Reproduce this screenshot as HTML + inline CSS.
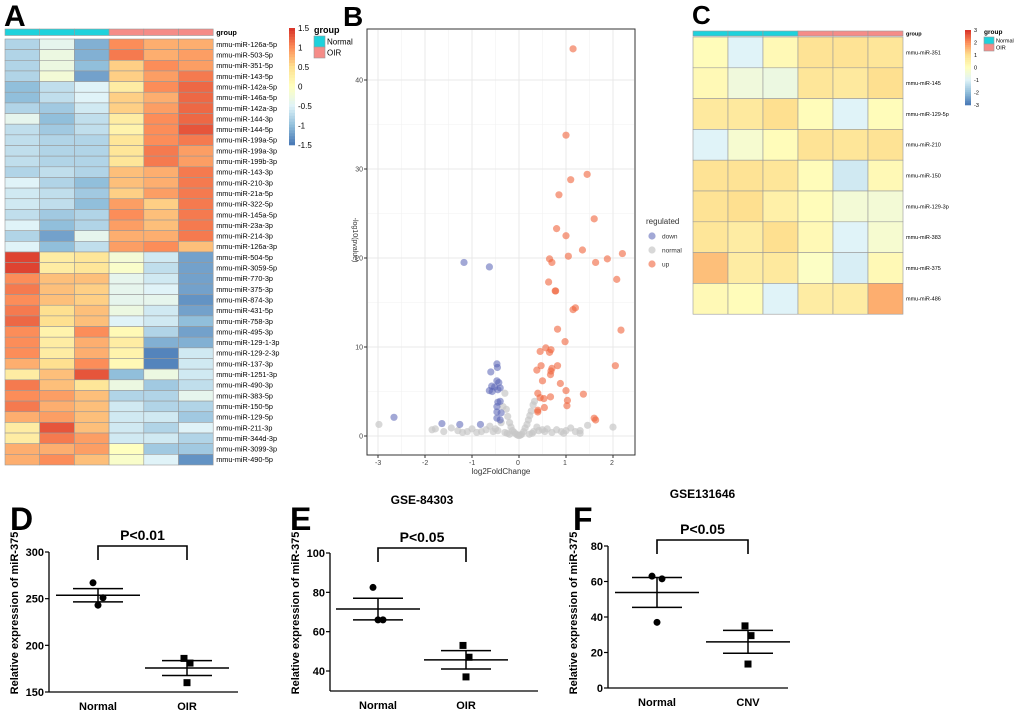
<!DOCTYPE html>
<html><head><meta charset="utf-8"><style>
body{margin:0;background:#fff;}
svg{display:block;font-family:"Liberation Sans",Arial,sans-serif;}
</style></head><body>
<svg id="fig" width="1020" height="711" viewBox="0 0 1020 711"></svg>
<script>
// ---------- Panel A data ----------
const aRows=["mmu-miR-126a-5p","mmu-miR-503-5p","mmu-miR-351-5p","mmu-miR-143-5p","mmu-miR-142a-5p","mmu-miR-146a-5p","mmu-miR-142a-3p","mmu-miR-144-3p","mmu-miR-144-5p","mmu-miR-199a-5p","mmu-miR-199a-3p","mmu-miR-199b-3p","mmu-miR-143-3p","mmu-miR-210-3p","mmu-miR-21a-5p","mmu-miR-322-5p","mmu-miR-145a-5p","mmu-miR-23a-3p","mmu-miR-214-3p","mmu-miR-126a-3p","mmu-miR-504-5p","mmu-miR-3059-5p","mmu-miR-770-3p","mmu-miR-375-3p","mmu-miR-874-3p","mmu-miR-431-5p","mmu-miR-758-3p","mmu-miR-495-3p","mmu-miR-129-1-3p","mmu-miR-129-2-3p","mmu-miR-137-3p","mmu-miR-1251-3p","mmu-miR-490-3p","mmu-miR-383-5p","mmu-miR-150-5p","mmu-miR-129-5p","mmu-miR-211-3p","mmu-miR-344d-3p","mmu-miR-3099-3p","mmu-miR-490-5p"];
const aGroups=["Normal","Normal","Normal","OIR","OIR","OIR"];
const aValues=[
[-0.8,-0.4,-1.1,1.0,0.8,0.8],[-0.8,-0.3,-1.1,1.1,0.8,0.9],[-0.8,-0.3,-1.0,0.6,1.0,0.9],[-0.8,-0.2,-1.2,0.6,0.9,1.1],
[-1.0,-0.7,-0.5,0.3,1.0,1.2],[-1.0,-0.7,-0.5,0.6,0.8,1.2],[-0.8,-0.9,-0.6,0.6,0.9,1.2],[-0.4,-1.0,-0.7,0.3,1.0,1.2],
[-0.7,-0.9,-0.7,0.2,1.0,1.3],[-0.7,-0.8,-0.8,0.4,1.0,1.1],[-0.7,-0.8,-0.8,0.4,1.1,0.9],[-0.7,-0.8,-0.8,0.4,1.1,0.9],
[-0.8,-0.7,-0.8,0.7,0.8,1.1],[-0.5,-0.8,-1.0,0.7,0.8,1.1],[-0.6,-0.7,-0.9,0.6,0.9,1.1],[-0.6,-0.7,-1.0,0.9,0.6,1.1],
[-0.7,-0.9,-0.8,1.0,0.7,1.1],[-0.5,-1.0,-0.8,0.9,0.7,1.1],[-0.8,-1.2,-0.4,0.8,0.8,1.1],[-0.5,-1.0,-0.7,0.9,1.0,0.7],
[1.4,0.3,0.4,-0.2,-0.6,-1.2],[1.4,0.3,0.4,-0.1,-0.7,-1.2],[1.0,0.7,0.7,-0.4,-0.6,-1.2],[1.1,0.7,0.6,-0.4,-0.5,-1.2],
[1.0,0.7,0.6,-0.4,-0.4,-1.3],[1.1,0.5,0.7,-0.3,-0.6,-1.2],[1.2,0.5,0.7,-0.5,-0.6,-1.0],[1.0,0.2,1.0,0.1,-0.8,-1.2],
[1.0,0.3,0.8,0.3,-1.1,-1.1],[1.0,0.3,0.8,0.2,-1.4,-0.6],[0.8,0.5,1.0,0.1,-1.4,-0.6],[0.3,0.7,1.3,-1.0,-0.3,-0.6],
[1.1,0.7,0.4,-0.3,-0.9,-0.7],[1.0,0.9,0.7,-0.8,-0.8,-0.4],[1.1,0.8,0.7,-0.6,-0.8,-0.8],[0.8,0.9,0.7,-0.6,-0.6,-0.9],
[0.3,1.3,0.7,-0.6,-0.8,-0.5],[0.3,1.1,0.9,-0.6,-0.6,-0.8],[0.8,0.8,0.9,0.0,-0.9,-0.9],[0.8,1.0,0.7,-0.1,-0.5,-1.3]];
const aTicks=[1.5,1,0.5,0,-0.5,-1,-1.5];
// ---------- Panel C data ----------
const cRows=["mmu-miR-351","mmu-miR-145","mmu-miR-129-5p","mmu-miR-210","mmu-miR-150","mmu-miR-129-3p","mmu-miR-383","mmu-miR-375","mmu-miR-486"];
const cValues=[[0.1,-1.0,0.2,0.9,0.9,0.8],[0.2,-0.5,-0.6,0.8,0.7,1.0],[0.7,0.7,1.0,0.1,-1.0,0.1],[-1.0,-0.3,0.1,0.9,0.8,0.9],[0.9,0.9,0.8,0.1,-1.2,0.2],[0.9,1.0,0.5,0.1,-0.4,-0.4],[0.8,0.6,1.0,0.2,-1.0,-0.3],[1.4,0.6,0.7,-0.1,-1.1,0.2],[0.2,0.1,-1.0,0.6,0.6,1.6]];
const cTicks=[3,2,1,0,-1,-2,-3];
// ---------- Panel B data ----------
const upX=[1.15,1.0,1.45,1.1,0.85,1.6,0.8,1.0,1.35,2.2,1.05,0.65,1.88,0.7,1.63,2.08,0.63,0.77,0.78,1.2,1.15,0.82,2.17,0.98,0.57,0.68,0.45,0.65,0.82,2.05,0.47,0.7,0.38,0.68,0.67,0.5,0.88,1.0,0.4,1.37,0.45,0.53,0.67,1.03,1.02,0.54,0.4,0.4,1.6,1.63];
const upY=[43.5,33.8,29.4,28.8,27.1,24.4,23.3,22.5,20.9,20.5,20.2,19.9,19.9,19.5,19.5,17.6,17.3,16.3,16.3,14.4,14.2,12.0,11.9,10.6,9.9,9.7,9.5,9.4,7.9,7.9,7.9,7.6,7.4,7.3,6.9,6.2,5.9,5.1,4.8,4.7,4.3,4.2,4.4,4.0,3.4,3.2,2.9,2.7,2.0,1.8];
const downX=[-1.17,-0.63,-2.66,-1.64,-1.26,-0.82,-0.47,-0.46,-0.6,-0.47,-0.43,-0.58,-0.52,-0.4,-0.63,-0.57,-0.45,-0.4,-0.45,-0.47,-0.47,-0.38,-0.47,-0.4];
const downY=[19.5,19.0,2.1,1.4,1.3,1.3,8.1,7.7,7.2,6.2,6.0,5.6,5.5,5.4,5.1,5.0,5.2,3.9,3.8,3.3,2.7,2.6,2.0,1.8];
const normX=[-2.98,-1.85,-1.78,-1.44,-1.3,-1.1,-1.0,-0.9,-0.8,-0.7,-0.62,-0.55,-0.5,-0.45,-0.38,-0.34,-0.3,-0.27,-0.24,-0.2,-0.17,-0.14,-0.1,-0.06,-0.03,0,0.03,0.06,0.1,0.13,0.17,0.2,0.23,0.26,0.3,0.33,0.38,0.42,0.5,0.55,0.6,0.7,0.8,0.9,1.0,1.1,1.2,1.3,1.46,2.0,-0.25,-0.3,0.28,0.31,-0.2,0.22,-1.6,-1.2,0.95,1.3];
const normY=[1.3,0.7,0.8,0.9,0.6,0.5,0.8,0.4,0.5,0.7,1.1,0.5,0.8,0.6,1.5,3.3,4.8,3.0,2.2,1.5,1.0,0.6,0.4,0.2,0.1,0.05,0.1,0.2,0.5,0.9,1.3,1.8,2.3,2.8,3.5,3.9,1.0,0.6,0.7,0.5,0.8,0.4,0.7,0.5,0.6,0.9,0.5,0.6,1.2,1.0,0.3,0.4,0.3,0.5,0.2,0.2,0.5,0.4,0.3,0.3];
const bXTicks=[-3,-2,-1,0,1,2];
const bYTicks=[0,10,20,30,40];
// ---------- Panels D/E/F data ----------
const dNormal=[267,251,243], dOIR=[186,181,160], dTicks=[150,200,250,300];
const eNormal=[82.5,66,66], eOIR=[53,47,37], eTicks=[40,60,80,100];
const fNormal=[63,61.5,37], fCNV=[35,29.5,13.5], fTicks=[0,20,40,60,80];

const NS="http://www.w3.org/2000/svg";
const svg=document.getElementById('fig');
function mk(tag,attrs,parent,text){const e=document.createElementNS(NS,tag);for(const k in attrs)e.setAttribute(k,attrs[k]);if(text!==undefined)e.textContent=text;(parent||svg).appendChild(e);return e;}
const pal=["#4575B4","#91BFDB","#E0F3F8","#FFFFBF","#FEE090","#FC8D59","#D73027"];
function hex(c){return [1,3,5].map(i=>parseInt(c.substr(i,2),16));}
function color(v,lim){let t=(v+lim)/(2*lim);t=Math.max(0,Math.min(1,t))*6;const i=Math.min(5,Math.floor(t)),f=t-i;const a=hex(pal[i]),b=hex(pal[i+1]);return "rgb("+a.map((x,k)=>Math.round(x+(b[k]-x)*f)).join(",")+")";}
function label(x,y,t,size,name,extra){const e=mk('text',Object.assign({x:x,y:y,'font-size':size},extra||{}),svg,t);return e;}
const grpCol={Normal:"#1ED2DC",OIR:"#F58C88"};

function heatmap(pfx,x0,barY,barH,y0,cw,rh,rows,vals,lim,labSize){
  const g=mk('g',{});
  aGroups.forEach((gr,j)=>{const r=mk('rect',{x:x0+j*cw,y:barY,width:cw,height:barH,fill:grpCol[gr],stroke:'#999','stroke-width':0.6},g);
    });
  label(x0+6*cw+3,barY+barH-0.5,'group',labSize,pfx+'-group-label',{'font-weight':'bold'});
  rows.forEach((rn,i)=>{vals[i].forEach((v,j)=>{const r=mk('rect',{x:x0+j*cw,y:y0+i*rh,width:cw,height:rh,fill:color(v,lim),stroke:'#999','stroke-width':0.6},g);
      });
    label(x0+6*cw+3,y0+i*rh+rh/2+labSize*0.35,rn,labSize,pfx+'-row-label');});
}
function colorbar(pfx,x,y1,y2,ticks,lim,sz){
  const n=40,h=(y2-y1)/n;
  for(let k=0;k<n;k++){const r=mk('rect',{x:x,y:y1+k*h,width:6,height:h+0.3,fill:color(lim-(k+0.5)/n*2*lim,lim)});}
  ticks.forEach(tv=>{label(x+9,y1+(lim-tv)/(2*lim)*(y2-y1)+sz*0.35,String(tv),sz,pfx+'-colorbar-tick');});
}
function groupLegend(pfx,x,y,sz,bw,bh){
  label(x,y,'group',sz+1,pfx+'-legend-title',{'font-weight':'bold'});
  ['Normal','OIR'].forEach((gname,i)=>{const r=mk('rect',{x:x,y:y+3+i*bh,width:bw,height:bh,fill:grpCol[gname],stroke:'#999','stroke-width':0.6});
    
    label(x+bw+2,y+3+i*bh+bh*0.75,gname,sz,pfx+'-legend-entry');});
}
label(4,26,'A',30,'panel-a-letter',{'font-weight':'bold'});
heatmap('a',5,29,6.5,39,34.7,10.65,aRows,aValues,1.5,7.3);
colorbar('a',289,28,145,aTicks,1.5,8);
groupLegend('a',314,33,8,11,11);
label(692,24,'C',26,'panel-c-letter',{'font-weight':'bold'});
heatmap('c',693,31,5,37,35,30.8,cRows,cValues,3,5.5);
colorbar('c',965,30,105,cTicks,3,5.5);
groupLegend('c',984,34,5.5,10,7);

label(343,26,'B',28,'panel-b-letter',{'font-weight':'bold'});
const bx=v=>519+v*47, by=v=>436-v*8.9;
mk('rect',{x:367,y:29,width:268,height:426,fill:'#fff',stroke:'#333','stroke-width':1});
[-2.5,-1.5,-0.5,0.5,1.5].forEach(v=>mk('line',{x1:bx(v),x2:bx(v),y1:30,y2:454,stroke:'#f2f2f2','stroke-width':0.6}));
[5,15,25,35].forEach(v=>mk('line',{x1:368,x2:634,y1:by(v),y2:by(v),stroke:'#f2f2f2','stroke-width':0.6}));
bXTicks.forEach(v=>{mk('line',{x1:bx(v),x2:bx(v),y1:30,y2:454,stroke:'#e8e8e8','stroke-width':0.9});mk('line',{x1:bx(v),x2:bx(v),y1:455,y2:458,stroke:'#333'});
  label(bx(v)-3,465,String(v),7,'b-x-tick',{fill:'#444'});});
bYTicks.forEach(v=>{mk('line',{x1:368,x2:634,y1:by(v),y2:by(v),stroke:'#e8e8e8','stroke-width':0.9});mk('line',{x1:364,x2:367,y1:by(v),y2:by(v),stroke:'#333'});
  label(363,by(v)+2.5,String(v),7,'b-y-tick',{fill:'#444','text-anchor':'end'});});
function pts(xs,ys,fill,op,name){xs.forEach((xv,i)=>{const c=mk('circle',{cx:bx(xv),cy:by(ys[i]),r:3.6,fill:fill,'fill-opacity':op});});}
pts(normX,normY,'#c8c8c8',0.7,'normal-point');
pts(downX,downY,'#5560b4',0.55,'down-point');
pts(upX,upY,'#f0643c',0.6,'up-point');
label(501,474,'log2FoldChange',8,'b-x-axis-title',{fill:'#333','text-anchor':'middle'});
label(353,240,'-log10(pvalue)',7,'b-y-axis-title',{fill:'#333','text-anchor':'middle',transform:'rotate(90 353 240)'});
label(646,224,'regulated',8,'b-legend-title',{fill:'#333'});
[['down','#5560b4',0.55],['normal','#c8c8c8',0.7],['up','#f0643c',0.6]].forEach((e,i)=>{
  const c=mk('circle',{cx:652,cy:236+i*14,r:3.6,fill:e[1],'fill-opacity':e[2]});
  label(662,238.5+i*14,e[0],6.5,'b-legend-entry',{fill:'#333'});});

function dotplot(o){
  const ys=v=>o.y0+(v-o.vmin)/(o.vmax-o.vmin)*(o.y1-o.y0);
  mk('line',{x1:o.ax,x2:o.ax,y1:ys(o.vmax),y2:o.axBot,stroke:'#000','stroke-width':1.3});
  mk('line',{x1:o.ax,x2:o.axEnd,y1:o.axBot,y2:o.axBot,stroke:'#000','stroke-width':1.3});
  o.ticks.forEach(t=>{mk('line',{x1:o.ax-4,x2:o.ax,y1:ys(t),y2:ys(t),stroke:'#000','stroke-width':1.2});
    label(o.ax-5,ys(t)+4,String(t),11,o.p+'-y-tick',{'font-weight':'bold','text-anchor':'end'});});
  [[o.g1,o.x1,'circle',o.n1],[o.g2,o.x2,'square',o.n2]].forEach(([vals,cx,shape,nm],gi)=>{
    const m=vals.reduce((a,b)=>a+b,0)/vals.length;
    const sd=Math.sqrt(vals.reduce((a,b)=>a+(b-m)*(b-m),0)/(vals.length-1));const se=sd/Math.sqrt(vals.length);
    mk('line',{x1:cx-42,x2:cx+42,y1:ys(m),y2:ys(m),stroke:'#000','stroke-width':1.5});
    mk('line',{x1:cx-25,x2:cx+25,y1:ys(m+se),y2:ys(m+se),stroke:'#000','stroke-width':1.5});
    mk('line',{x1:cx-25,x2:cx+25,y1:ys(m-se),y2:ys(m-se),stroke:'#000','stroke-width':1.5});
    mk('line',{x1:cx,x2:cx,y1:ys(m+se),y2:ys(m-se),stroke:'#000','stroke-width':1.5});
    const off=[-5,5,0];
    vals.forEach((v,i)=>{let e;if(shape==='circle')e=mk('circle',{cx:cx+off[i],cy:ys(v),r:3.5,fill:'#000'});
      else e=mk('rect',{x:cx+off[i]*0.6-3.5,y:ys(v)-3.5,width:7,height:7,fill:'#000'});
      });
    label(cx,o.axBot+18,nm,11,o.p+'-x-label',{'font-weight':'bold','text-anchor':'middle'});
  });
  mk('polyline',{points:`${o.x1},${o.by+14} ${o.x1},${o.by} ${o.x2},${o.by} ${o.x2},${o.by+14}`,fill:'none',stroke:'#000','stroke-width':1.6});
  label((o.x1+o.x2)/2,o.by-6,o.pv,14,o.p+'-p-value',{'font-weight':'bold','text-anchor':'middle'});
  label(o.lx,o.ly,o.letter,32,o.p+'-panel-letter',{'font-weight':'bold'});
  if(o.title)label((o.x1+o.x2)/2,o.ty,o.title,12,o.p+'-title',{'font-weight':'bold','text-anchor':'middle'});
  const cy=613, tx=o.ax-31;
  label(tx,cy,'Relative expression of miR-375',11,o.p+'-y-axis-title',{'font-weight':'bold','text-anchor':'middle',transform:`rotate(-90 ${tx} ${cy})`});
}
dotplot({p:'d',ax:49,axBot:692,axEnd:238,vmin:150,vmax:300,y0:692,y1:552,ticks:dTicks,g1:dNormal,g2:dOIR,x1:98,x2:187,n1:'Normal',n2:'OIR',by:546,pv:'P<0.01',letter:'D',lx:10,ly:530});
dotplot({p:'e',ax:330,axBot:691,axEnd:538,vmin:40,vmax:100,y0:671,y1:553,ticks:eTicks,g1:eNormal,g2:eOIR,x1:378,x2:466,n1:'Normal',n2:'OIR',by:548,pv:'P<0.05',letter:'E',lx:290,ly:530,title:'GSE-84303',ty:504});
dotplot({p:'f',ax:608,axBot:688,axEnd:788,vmin:0,vmax:80,y0:688,y1:546,ticks:fTicks,g1:fNormal,g2:fCNV,x1:657,x2:748,n1:'Normal',n2:'CNV',by:540,pv:'P<0.05',letter:'F',lx:573,ly:530,title:'GSE131646',ty:498});
</script>
</body></html>
